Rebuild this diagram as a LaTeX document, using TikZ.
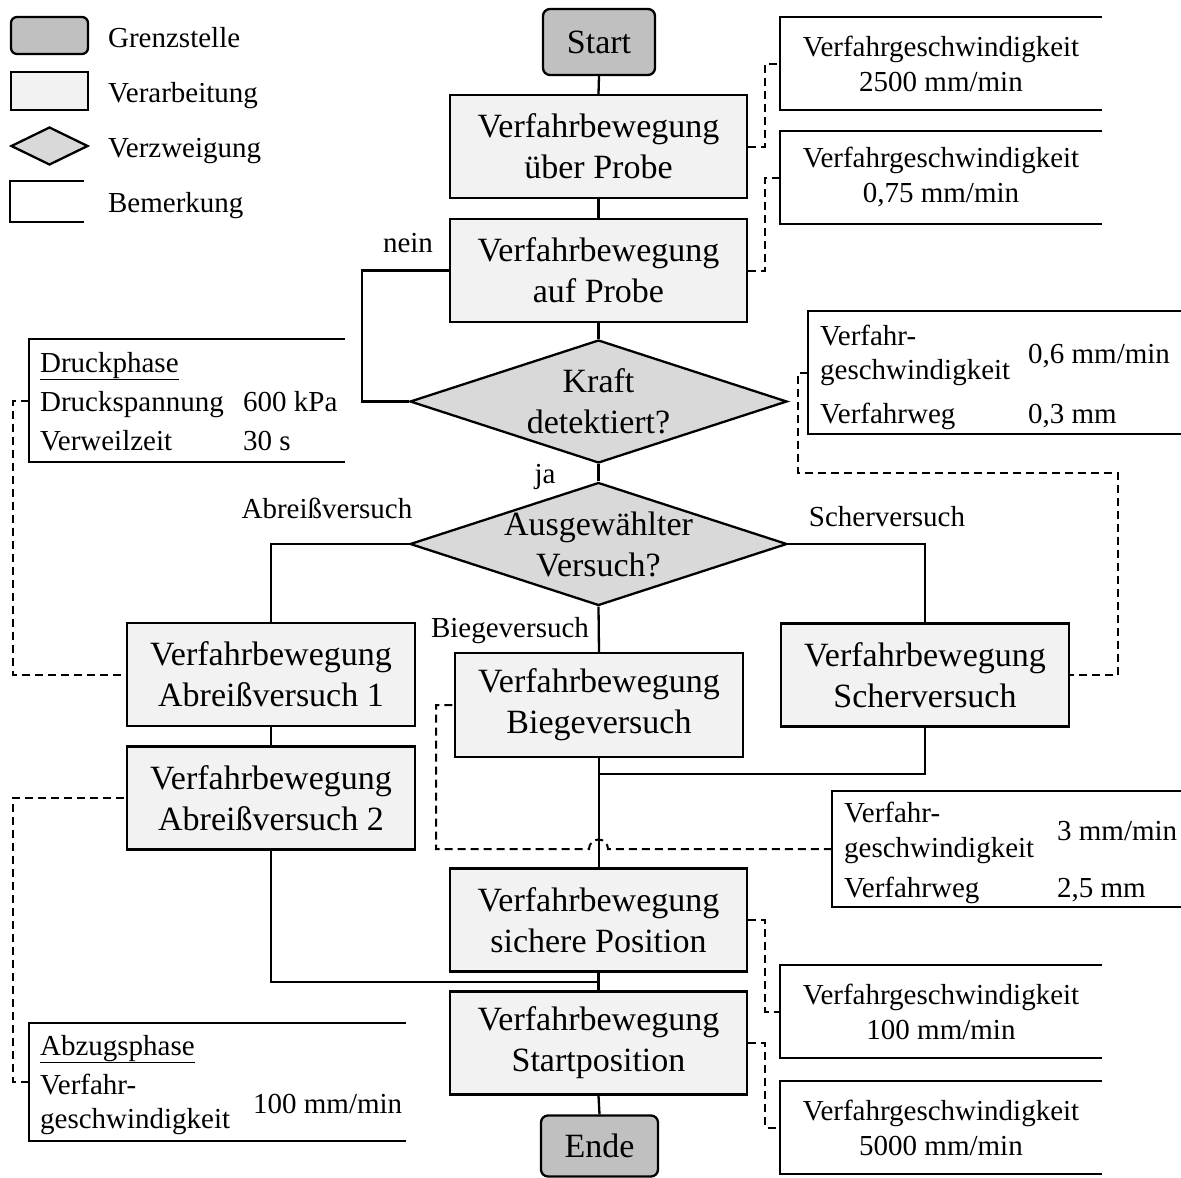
\documentclass[tikz,border=0pt]{standalone}
\usepackage{fontspec}
\setmainfont{Liberation Serif}
\usetikzlibrary{shapes.geometric}
\newcommand\mybig{\fontsize{34}{41}\selectfont}
\newcommand\mysmall{\fontsize{29}{35}\selectfont}
\definecolor{procfill}{RGB}{242,242,242}
\definecolor{termfill}{RGB}{192,192,192}
\definecolor{decfill}{RGB}{217,217,217}
\begin{document}
\begin{tikzpicture}[x=1pt,y=-1pt, line width=2.3pt,
 proc/.style={draw, fill=procfill, rectangle, minimum width=297pt, minimum height=103pt, inner sep=0pt, align=center, font=\mybig},
 term/.style={draw, fill=termfill, rectangle, rounded corners=7pt, inner sep=0pt, font=\mybig},
 dec/.style={draw, fill=decfill, diamond, minimum width=377pt, minimum height=123pt, inner sep=0pt},
 lbl/.style={font=\mysmall, inner sep=0pt},
 bem/.style={rectangle, inner sep=0pt, align=center, font=\mysmall},
 dconn/.style={dash pattern=on 8pt off 5pt, line width=2pt},
 bracket/.style={line width=2.3pt},
]
\useasboundingbox (0,0) rectangle (1181,1178);

% legend
\node[term, minimum width=77pt, minimum height=37pt, rounded corners=6pt] (lg1) at (49.5,35.5) {};
\node[proc, minimum width=77pt, minimum height=38pt] (lg2) at (49.5,91) {};
\node[dec, minimum width=77pt, minimum height=38pt] (lg3) at (49.5,146) {};
\node[bem, minimum width=72pt, minimum height=39pt] (lg4) at (47,201.5) {};
\draw[bracket] (lg4.north east) -| (lg4.south west) -- (lg4.south east);
\node[lbl, anchor=base west] (lt1) at (107,47) {Grenzstelle};
\node[lbl, anchor=base west] (lt2) at (107,102) {Verarbeitung};
\node[lbl, anchor=base west] (lt3) at (107,157) {Verzweigung};
\node[lbl, anchor=base west] (lt4) at (107,212) {Bemerkung};

% main flow
\node[term, minimum width=112pt, minimum height=66pt] (start) at (599,42) {Start};
\node[proc] (b1) at (598.5,146.5) {Verfahrbewegung\\über Probe};
\node[proc] (b2) at (598.5,270.5) {Verfahrbewegung\\auf Probe};
\node[dec, label={[font=\mybig, align=center]center:Kraft\\detektiert?}] (d1) at (598.5,401.5) {};
\node[dec, label={[font=\mybig, align=center]center:Ausgewählter\\Versuch?}] (d2) at (598.5,544) {};
\node[proc, minimum width=288pt] (a1) at (271,674.5) {Verfahrbewegung\\Abreißversuch 1};
\node[proc, minimum width=288pt] (a2) at (271,798) {Verfahrbewegung\\Abreißversuch 2};
\node[proc, minimum width=288pt, minimum height=104pt] (bg) at (599,705) {Verfahrbewegung\\Biegeversuch};
\node[proc, minimum width=288pt] (sc) at (925,675) {Verfahrbewegung\\Scherversuch};
\node[proc] (ss) at (598.5,920) {Verfahrbewegung\\sichere Position};
\node[proc] (sp) at (598.5,1043) {Verfahrbewegung\\Startposition};
\node[term, minimum width=117pt, minimum height=61pt] (ende) at (599.5,1146) {Ende};

% solid connectors
\draw (start.south) -- (b1.north);
\draw (b1.south) -- (b2.north);
\draw (b2.south) -- (d1.north);
\coordinate (n1) at (362,401.5);
\draw (d1.west) -- (n1) |- (b2.west);
\draw (d1.south) -- (d2.north);
\draw (d2.west) -| (a1.north);
\draw (d2.east) -| (sc.north);
\draw (d2.south) -- (bg.north);
\draw (a1.south) -- (a2.north);
\coordinate (m1) at (599,774);
\draw (bg.south) -- (m1) -- (m1 |- ss.north);
\draw (sc.south) |- (m1);
\coordinate (m2) at (598.5,982);
\draw (ss.south) -- (sp.north);
\draw (a2.south) |- (m2);
\draw (sp.south) -- (ende.north);

% branch labels
\node[lbl, anchor=base] (lnein) at (408,252) {nein};
\node[lbl, anchor=base] (lja) at (545,483) {ja};
\node[lbl, anchor=base] (labr) at (327,518) {Abreißversuch};
\node[lbl, anchor=base] (lsch) at (887,526) {Scherversuch};
\node[lbl, anchor=base] (lbie) at (510,637) {Biegeversuch};

% simple comments
\node[bem, minimum width=320pt, minimum height=91pt] (c1) at (941,63.5) {Verfahrgeschwindigkeit\\2500 mm/min};
\draw[bracket] (c1.north east) -| (c1.south west) -- (c1.south east);
\node[bem, minimum width=320pt, minimum height=91pt] (c2) at (941,177.5) {Verfahrgeschwindigkeit\\0,75 mm/min};
\draw[bracket] (c2.north east) -| (c2.south west) -- (c2.south east);
\node[bem, minimum width=320pt, minimum height=91pt] (c7) at (941,1011.5) {Verfahrgeschwindigkeit\\100 mm/min};
\draw[bracket] (c7.north east) -| (c7.south west) -- (c7.south east);
\node[bem, minimum width=320pt, minimum height=91pt] (c8) at (941,1127.5) {Verfahrgeschwindigkeit\\5000 mm/min};
\draw[bracket] (c8.north east) -| (c8.south west) -- (c8.south east);

\draw[dconn] (b1.east) -- ++(17,0) |- (c1.west);
\draw[dconn] (b2.east) -- ++(17,0) |- (c2.west);
\draw[dconn] (ss.east) -- ++(17,0) |- (c7.west);
\draw[dconn] (sp.east) -- ++(17,0) |- (c8.west);

% comment C3 (force detection)
\node[bem, minimum width=372pt, minimum height=121pt] (c3) at (995,372.5) {};
\draw[bracket] (c3.north east) -| (c3.south west) -- (c3.south east);
\node[lbl, anchor=base west] (c3a) at (819,345) {Verfahr-};
\node[lbl, anchor=base west] (c3b) at (819,379) {geschwindigkeit};
\node[lbl, anchor=base west] (c3c) at (1027,363) {0,6 mm/min};
\node[lbl, anchor=base west] (c3d) at (819,423) {Verfahrweg};
\node[lbl, anchor=base west] (c3e) at (1027,423) {0,3 mm};
\coordinate (k1) at (798,473);
\coordinate (k2) at (1118,473);
\draw[dconn] (c3.west) -| (k1) -- (k2) |- (sc.east);

% comment C4 (Druckphase)
\node[bem, minimum width=314pt, minimum height=121pt] (c4) at (187,400.5) {};
\draw[bracket] (c4.north east) -| (c4.south west) -- (c4.south east);
\node[lbl, anchor=base west] (c4a) at (39,372) {\underline{Druckphase}};
\node[lbl, anchor=base west] (c4b) at (39,411) {Druckspannung};
\node[lbl, anchor=base west] (c4c) at (242,411) {600 kPa};
\node[lbl, anchor=base west] (c4d) at (39,450) {Verweilzeit};
\node[lbl, anchor=base west] (c4e) at (242,450) {30 s};
\coordinate (k3) at (13,400.5);
\draw[dconn] (c4.west) -- (k3) |- (a1.west);

% comment C5 (Biegeversuch)
\node[bem, minimum width=348pt, minimum height=114pt] (c5) at (1007,849) {};
\draw[bracket] (c5.north east) -| (c5.south west) -- (c5.south east);
\node[lbl, anchor=base west] (c5a) at (843,822) {Verfahr-};
\node[lbl, anchor=base west] (c5b) at (843,857) {geschwindigkeit};
\node[lbl, anchor=base west] (c5c) at (1056,840) {3 mm/min};
\node[lbl, anchor=base west] (c5d) at (843,897) {Verfahrweg};
\node[lbl, anchor=base west] (c5e) at (1056,897) {2,5 mm};
\coordinate (h1) at (608,849);
\coordinate (h2) at (436,849);
\draw[dconn] (c5.west) -- (h1) arc[start angle=0, end angle=-180, radius=9.5] -- (h2) |- (bg.west);

% comment C6 (Abzugsphase)
\node[bem, minimum width=375pt, minimum height=116pt] (c6) at (217.5,1082) {};
\draw[bracket] (c6.north east) -| (c6.south west) -- (c6.south east);
\node[lbl, anchor=base west] (c6a) at (39,1055) {\underline{Abzugsphase}};
\node[lbl, anchor=base west] (c6b) at (39,1094) {Verfahr-};
\node[lbl, anchor=base west] (c6c) at (39,1128) {geschwindigkeit};
\node[lbl, anchor=base west] (c6d) at (252,1113) {100 mm/min};
\coordinate (k4) at (13,1082);
\draw[dconn] (c6.west) -- (k4) |- (a2.west);
\end{tikzpicture}
\end{document}
